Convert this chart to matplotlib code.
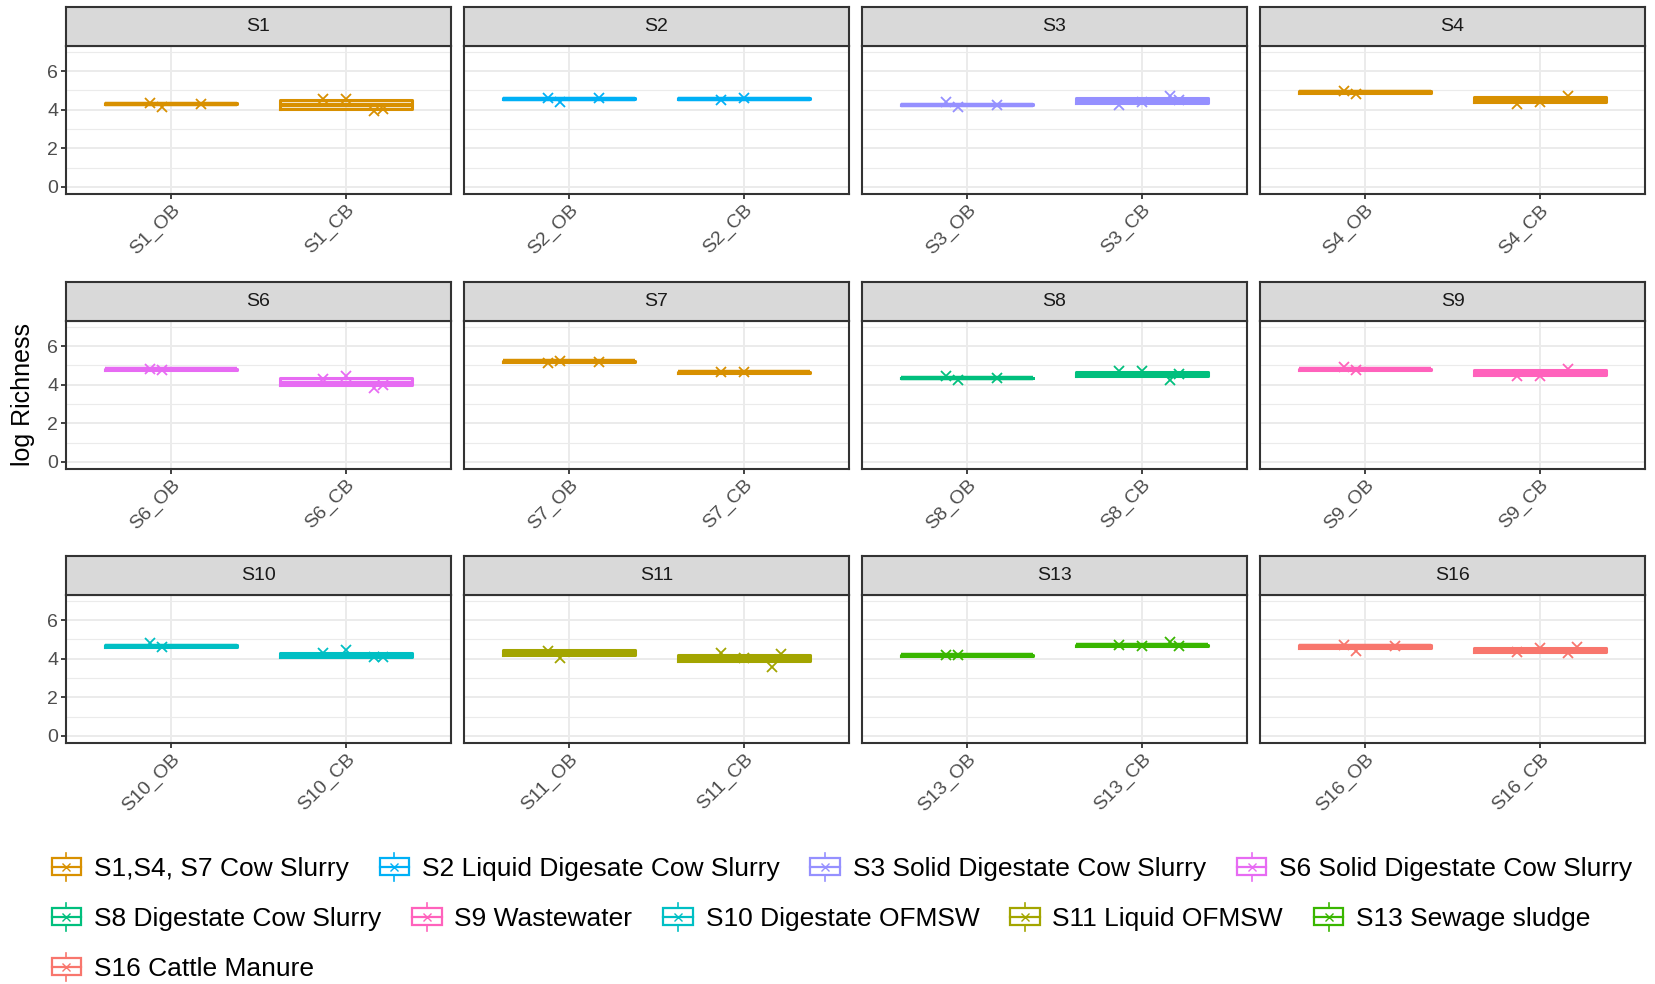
import numpy as np
import matplotlib
matplotlib.use("Agg")
import matplotlib.pyplot as plt
from matplotlib.legend_handler import HandlerBase
from matplotlib.patches import Rectangle
from matplotlib.lines import Line2D

plt.rcParams["font.family"] = ["Liberation Sans", "DejaVu Sans"]

# ---- data ----
panels = ["S1", "S2", "S3", "S4", "S6", "S7", "S8", "S9", "S10", "S11", "S13", "S16"]
groups = ["OB", "CB"]

ob_q1 = [4.29, 4.55, 4.24, 4.88, 4.78, 5.20, 4.33, 4.77, 4.63, 4.21, 4.15, 4.55]
ob_med = [4.31, 4.57, 4.26, 4.92, 4.80, 5.22, 4.35, 4.80, 4.66, 4.31, 4.17, 4.64]
ob_q3 = [4.33, 4.59, 4.28, 4.95, 4.82, 5.24, 4.37, 4.83, 4.69, 4.43, 4.19, 4.72]
cb_q1 = [4.02, 4.55, 4.33, 4.40, 3.97, 4.62, 4.45, 4.52, 4.09, 3.90, 4.67, 4.35]
cb_med = [4.26, 4.57, 4.45, 4.52, 4.10, 4.64, 4.57, 4.64, 4.20, 4.02, 4.69, 4.47]
cb_q3 = [4.50, 4.59, 4.58, 4.64, 4.36, 4.66, 4.68, 4.76, 4.31, 4.17, 4.71, 4.57]

ob_points = [
    [4.35, 4.14, 4.31], [4.60, 4.40, 4.63], [4.40, 4.14, 4.26], [4.97, 4.80],
    [4.80, 4.77], [5.13, 5.25, 5.20], [4.43, 4.22, 4.35], [4.90, 4.78],
    [4.79, 4.62], [4.40, 4.05], [4.19, 4.19], [4.70, 4.40, 4.67],
]
cb_points = [
    [4.54, 4.54, 3.91, 4.05], [4.52, 4.63], [4.23, 4.40, 4.70, 4.52], [4.28, 4.40, 4.71],
    [4.28, 4.45, 3.81, 3.98], [4.64, 4.64], [4.70, 4.70, 4.26, 4.57], [4.47, 4.43, 4.83],
    [4.31, 4.45, 4.07, 4.10], [4.28, 4.02, 3.59, 4.22], [4.70, 4.67, 4.84, 4.67], [4.36, 4.53, 4.28, 4.62],
]

sources = {
    "S1,S4, S7 Cow Slurry": "#D89000",
    "S2 Liquid Digesate Cow Slurry": "#00B0F6",
    "S3 Solid Digestate Cow Slurry": "#9590FF",
    "S6 Solid Digestate Cow Slurry": "#E76BF3",
    "S8 Digestate Cow Slurry": "#00BF7D",
    "S9 Wastewater": "#FF62BC",
    "S10 Digestate OFMSW": "#00BFC4",
    "S11 Liquid OFMSW": "#A3A500",
    "S13 Sewage sludge": "#39B600",
    "S16 Cattle Manure": "#F8766D",
}
panel_source = ["S1,S4, S7 Cow Slurry", "S2 Liquid Digesate Cow Slurry",
                "S3 Solid Digestate Cow Slurry", "S1,S4, S7 Cow Slurry",
                "S6 Solid Digestate Cow Slurry", "S1,S4, S7 Cow Slurry",
                "S8 Digestate Cow Slurry", "S9 Wastewater", "S10 Digestate OFMSW",
                "S11 Liquid OFMSW", "S13 Sewage sludge", "S16 Cattle Manure"]
legend_rows = [list(sources)[:4], list(sources)[4:9], list(sources)[9:]]

# fixed jitter pattern for the replicate points
OB_JITTER = [-0.12, -0.05, 0.17]
CB_JITTER = [-0.13, 0.0, 0.16, 0.21]

W, H = 1656, 984
fig = plt.figure(figsize=(W / 100, H / 100), dpi=100)

col_left = [66, 464, 862, 1260]
row_top = [7, 282, 556]
panel_w, strip_h, panel_h = 385, 39, 148

GRID = "#EBEBEB"
DARK = "#333333"


def fig_rect(x, y, w, h):
    return [x / W, 1 - (y + h) / H, w / W, h / H]


for i, name in enumerate(panels):
    r, c = divmod(i, 4)
    x0, y0 = col_left[c], row_top[r]
    color = sources[panel_source[i]]

    ax = fig.add_axes(fig_rect(x0, y0 + strip_h, panel_w, panel_h))
    stats = [
        dict(q1=ob_q1[i], med=ob_med[i], q3=ob_q3[i], whislo=ob_q1[i], whishi=ob_q3[i], fliers=[]),
        dict(q1=cb_q1[i], med=cb_med[i], q3=cb_q3[i], whislo=cb_q1[i], whishi=cb_q3[i], fliers=[]),
    ]
    ax.bxp(stats, positions=[1, 2], widths=0.75, showcaps=False,
           boxprops=dict(color=color, linewidth=2.2),
           medianprops=dict(color=color, linewidth=3.2, solid_capstyle="butt"),
           whiskerprops=dict(color=color, linewidth=1.6), zorder=3)
    for pos, pts, jit in [(1, ob_points[i], OB_JITTER), (2, cb_points[i], CB_JITTER)]:
        xs = [pos + jit[k] for k in range(len(pts))]
        ax.plot(xs, pts, "x", color=color, ms=7.5, mew=1.3, zorder=4)

    ax.set_xlim(0.4, 2.6)
    ax.set_ylim(-0.37, 7.3)
    ax.set_xticks([1, 2])
    ax.set_xticklabels([f"{name}_{g}" for g in groups], rotation=45, ha="right",
                       va="top", rotation_mode="anchor", fontsize=14.5, color="#4D4D4D")
    ax.set_yticks([0, 2, 4, 6])
    ax.set_yticks([1, 3, 5, 7], minor=True)
    ax.grid(True, which="major", color=GRID, linewidth=1.4, zorder=0)
    ax.grid(True, which="minor", axis="y", color=GRID, linewidth=0.8, zorder=0)
    ax.set_axisbelow(True)
    ax.tick_params(axis="both", which="major", length=3.5, width=1.3, color=DARK,
                   labelsize=14, labelcolor="#4D4D4D", pad=2)
    ax.tick_params(axis="y", which="minor", length=0)
    if c != 0:
        ax.tick_params(axis="y", which="major", length=0, labelleft=False)
    for sp in ax.spines.values():
        sp.set_color(DARK)
        sp.set_linewidth(1.5)

    sax = fig.add_axes(fig_rect(x0, y0, panel_w, strip_h))
    sax.set_facecolor("#D9D9D9")
    sax.set_xticks([])
    sax.set_yticks([])
    for sp in sax.spines.values():
        sp.set_color(DARK)
        sp.set_linewidth(1.5)
    sax.text(0.5, 0.5, name, ha="center", va="center", fontsize=14, color="#1A1A1A",
             transform=sax.transAxes)

fig.text(23 / W, 1 - 395 / H, "log Richness", rotation=90, ha="center", va="center",
         fontsize=18, color="black")


class BoxKey(HandlerBase):
    def create_artists(self, legend, orig_handle, xdescent, ydescent, width, height,
                       fontsize, trans):
        col = orig_handle.get_color()
        cx = -xdescent + width / 2
        cy = -ydescent + height / 2
        bw, bh = width * 0.9, height * 0.62
        rect = Rectangle((cx - bw / 2, cy - bh / 2), bw, bh, facecolor="none",
                         edgecolor=col, linewidth=1.6, transform=trans)
        med = Line2D([cx - bw / 2, cx + bw / 2], [cy, cy], color=col, lw=1.6, transform=trans)
        wlo = Line2D([cx, cx], [cy - height * 0.52, cy - bh / 2], color=col, lw=1.2, transform=trans)
        whi = Line2D([cx, cx], [cy + bh / 2, cy + height * 0.52], color=col, lw=1.2, transform=trans)
        mk = Line2D([cx], [cy], marker="x", color=col, ms=6, mew=1.0, transform=trans)
        return [rect, med, wlo, whi, mk]


row_y = [867, 917, 967]
for labels, yy in zip(legend_rows, row_y):
    handles = [Line2D([], [], color=sources[lab]) for lab in labels]
    fig.legend(handles, labels, loc="center left", bbox_to_anchor=(50 / W, 1 - yy / H),
               ncol=len(labels), frameon=False, fontsize=19, handlelength=1.25,
               handleheight=1.2, handletextpad=0.42, columnspacing=1.1,
               borderpad=0, borderaxespad=0, handler_map={Line2D: BoxKey()})

fig.savefig("out.png", dpi=100)
